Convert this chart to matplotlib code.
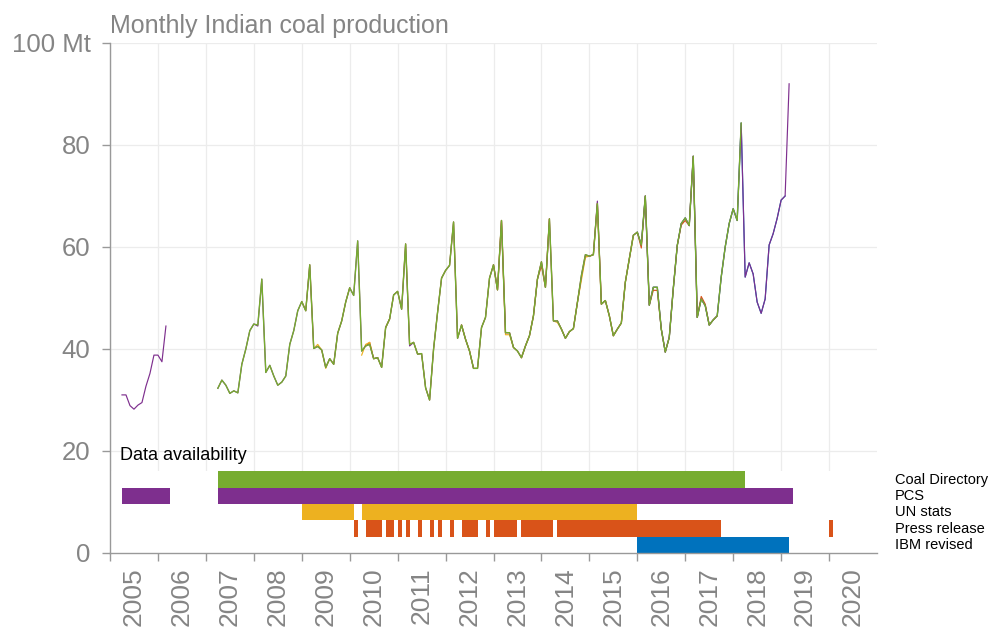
import numpy as np
import matplotlib
matplotlib.use("Agg")
import matplotlib.pyplot as plt
from matplotlib.transforms import blended_transform_factory

plt.rcParams['font.family'] = ['Liberation Sans', 'DejaVu Sans']

# ---------------- data (monthly production, Mt) ----------------
series_names = ["Coal Directory", "PCS", "UN stats", "Press release", "IBM revised"]
series_colors = ["#77AC30", "#7E2F8E", "#EDB120", "#D95319", "#0072BD"]

# Coal Directory: Apr 2007 - Mar 2018
coal_dir_start = "2007-04"
coal_dir = [32.3, 33.9, 32.9, 31.3, 31.8, 31.4, 37.0, 40.0, 43.6, 44.9, 44.7, 53.7,
            35.4, 36.8, 34.7, 32.9, 33.5, 34.7, 40.9, 43.6, 47.5, 49.3, 47.5, 56.5,
            40.1, 40.5, 39.8, 36.4, 38.1, 37.0, 43.1, 45.5, 49.2, 52.0, 50.5, 61.2,
            39.6, 40.6, 40.9, 38.1, 38.3, 36.4, 44.2, 45.9, 50.6, 51.3, 47.8, 60.6,
            40.9, 41.3, 39.0, 39.1, 32.4, 30.0, 40.0, 47.2, 53.9, 55.4, 56.4, 64.9,
            42.1, 44.7, 41.9, 39.6, 36.2, 36.2, 44.2, 46.2, 53.9, 56.5, 51.6, 65.2,
            43.2, 43.2, 40.3, 39.6, 38.3, 40.6, 42.6, 46.5, 53.7, 57.1, 52.1, 65.5,
            45.5, 45.5, 43.9, 42.1, 43.4, 44.0, 49.1, 54.4, 58.5, 58.2, 58.5, 68.5,
            48.8, 49.5, 46.5, 42.6, 43.9, 45.1, 53.1, 57.7, 62.3, 62.9, 60.4, 70.0,
            48.6, 52.1, 52.1, 43.9, 39.4, 42.3, 51.8, 60.3, 64.6, 65.7, 64.2, 77.8,
            46.2, 49.8, 48.5, 44.7, 45.7, 46.5, 54.1, 60.0, 64.6, 67.5, 65.2, 84.3]

# PCS: Apr 2005 - Mar 2006 and Apr 2007 - Mar 2019
pcs_a_start = "2005-04"
pcs_a = [31.0, 31.0, 28.9, 28.2, 29.0, 29.5, 32.7, 35.2, 38.8, 38.8, 37.5, 44.5]
pcs_b_start = "2007-04"
pcs_b = [32.3, 33.9, 32.9, 31.3, 31.8, 31.4, 37.0, 40.0, 43.6, 44.9, 44.5, 53.7,
         35.4, 36.8, 34.7, 32.9, 33.5, 34.7, 40.9, 43.6, 47.5, 49.3, 47.5, 56.5,
         40.1, 40.5, 39.8, 36.4, 38.1, 37.0, 43.1, 45.5, 49.2, 52.0, 50.5, 61.2,
         39.6, 40.6, 40.9, 38.1, 38.3, 36.4, 44.2, 45.9, 50.6, 51.3, 47.8, 60.6,
         40.6, 41.3, 39.0, 39.1, 32.4, 30.0, 40.0, 47.2, 53.9, 55.4, 56.4, 64.9,
         42.1, 44.7, 41.9, 39.6, 36.2, 36.2, 44.2, 46.2, 53.9, 56.5, 51.6, 65.2,
         43.2, 43.2, 40.3, 39.6, 38.3, 40.6, 42.6, 46.5, 53.7, 57.1, 52.1, 65.5,
         45.5, 45.5, 43.9, 42.1, 43.4, 44.0, 49.1, 54.4, 58.5, 58.2, 58.5, 69.0,
         48.8, 49.5, 46.5, 42.6, 43.9, 45.1, 53.1, 57.7, 62.3, 62.9, 60.4, 70.0,
         48.6, 52.1, 52.1, 43.9, 39.4, 42.3, 51.8, 60.3, 64.6, 65.7, 64.2, 77.8,
         46.2, 49.8, 48.5, 44.7, 45.7, 46.5, 54.1, 60.0, 64.6, 67.5, 65.2, 84.3,
         54.1, 56.9, 54.7, 49.2, 47.0, 49.8, 60.4, 62.6, 65.6, 69.2, 70.0, 92.0]

# UN stats: Jan 2009 - Jan 2010 and Apr 2010 - Dec 2015
un_a_start = "2009-01"
un_a = [49.3, 47.5, 56.5, 40.1, 40.9, 39.8, 36.2, 38.1, 37.0, 43.1, 45.5, 49.2, 52.0]
un_b_start = "2010-04"
un_b = [38.8, 40.9, 41.3, 38.1, 38.3, 36.4, 44.2, 45.9, 50.6, 51.3, 47.8, 60.6,
        40.9, 41.3, 39.0, 39.1, 32.4, 30.0, 40.0, 47.2, 53.9, 55.4, 56.4, 64.9,
        42.1, 44.7, 41.9, 39.6, 36.2, 36.2, 44.2, 46.2, 53.9, 56.5, 51.6, 65.2,
        42.8, 42.8, 40.3, 39.6, 38.3, 40.6, 42.6, 46.5, 53.7, 57.1, 52.1, 65.5,
        45.5, 45.2, 43.9, 42.1, 43.4, 44.0, 49.1, 53.5, 58.0, 58.2, 58.5, 68.5,
        48.8, 49.5, 46.5, 42.6, 43.9, 45.1, 53.1, 57.7, 62.0]

# Press release: scattered months
press_starts = ["2010-02", "2010-05", "2010-10", "2011-01", "2011-03", "2011-06",
                "2011-09", "2011-11", "2012-02", "2012-05", "2012-11", "2013-01",
                "2013-08", "2014-05", "2020-01"]
press_values = [[50.5],
                [40.6, 41.3, 38.1, 38.3],
                [44.2, 45.9],
                [51.3],
                [60.6],
                [39.0],
                [30.0],
                [47.2],
                [56.4],
                [44.7, 41.9, 39.6, 36.2],
                [46.2],
                [56.5, 51.6, 65.2, 43.2, 43.2, 40.3],
                [38.3, 40.6, 42.6, 46.5, 53.7, 56.3, 52.1, 65.5],
                [45.5, 43.9, 42.1, 43.4, 44.0, 49.1, 54.0, 58.2, 58.2, 58.5, 68.5,
                 48.8, 49.5, 46.5, 42.6, 43.9, 45.1, 53.1, 57.7, 62.3, 62.9, 59.8, 70.0,
                 48.6, 51.5, 51.5, 43.9, 39.4, 42.3, 51.8, 60.3, 64.3, 65.2, 64.2, 77.8,
                 46.2, 50.3, 48.8, 44.7, 45.7, 46.5],
                [64.4]]

# IBM revised: Jan 2016 - Feb 2019
ibm_start = "2016-01"
ibm = [62.9, 60.4, 70.0,
       48.6, 52.1, 52.1, 43.9, 39.4, 42.3, 51.8, 60.3, 64.6, 65.7, 64.2, 77.8,
       46.2, 49.8, 48.5, 44.7, 45.7, 46.5, 54.1, 60.0, 64.6, 67.5, 65.2, 84.3,
       54.1, 56.9, 54.7, 49.2, 47.0, 49.8, 60.4, 62.6, 65.6, 69.2, 70.0]

year_ticks = list(range(2005, 2021))
y_ticks = [0, 20, 40, 60, 80, 100]
y_labels = ["0", "20", "40", "60", "80", "100 Mt"]

# ---------------- helpers ----------------
def month_pos(s):
    y, m = s.split("-")
    return int(y) + (int(m) - 1) / 12.0

def runs_xy(runs):
    xs, ys = [], []
    for start, vals in runs:
        t0 = month_pos(start)
        xs.extend(list(t0 + np.arange(len(vals)) / 12.0))
        ys.extend(vals)
        xs.append(np.nan)
        ys.append(np.nan)
    return np.array(xs), np.array(ys)

series_runs = [
    [(coal_dir_start, coal_dir)],
    [(pcs_a_start, pcs_a), (pcs_b_start, pcs_b)],
    [(un_a_start, un_a), (un_b_start, un_b)],
    list(zip(press_starts, press_values)),
    [(ibm_start, ibm)],
]
line_widths = [1.0, 0.85, 0.85, 0.85, 0.85]

# ---------------- figure ----------------
fig = plt.figure(figsize=(9.89, 6.29), dpi=100)
ax = fig.add_axes([110 / 989, 76 / 629, 767 / 989, 510 / 629])

gray = "#858585"
ax.set_xlim(2005, 2021)
ax.set_ylim(0, 100)
ax.set_axisbelow(True)
ax.grid(True, color="#ececec", lw=0.9, zorder=0)

# white band hiding the grid behind the availability bars
ax.axhspan(0, 16, color="white", zorder=1, lw=0)

bar_h = 3.2
draw_order = [4, 3, 2, 1, 0]
for i in draw_order:
    runs = series_runs[i]
    x, y = runs_xy(runs)
    ax.plot(x, y, color=series_colors[i], lw=line_widths[i],
            zorder=3 + (4 - i) * 0.1, solid_joinstyle="round")
    row = (4 - i) * bar_h
    spans = [(month_pos(s), len(v) / 12.0) for s, v in runs]
    ax.broken_barh(spans, (row, bar_h), facecolors=series_colors[i],
                   edgecolor="none", zorder=2)

trans = blended_transform_factory(ax.transAxes, ax.transData)
for i, name in enumerate(series_names):
    row = (4 - i) * bar_h
    ax.text(1.0235, row + bar_h / 2, name, transform=trans, fontsize=10.5,
            va="center", ha="left", color="black", clip_on=False)

ax.text(2005.21, 18.3, "Data availability", fontsize=13, color="black",
        va="baseline", ha="left", zorder=4)

# axes styling
for s in ["top", "right"]:
    ax.spines[s].set_visible(False)
for s in ["left", "bottom"]:
    ax.spines[s].set_color("#999999")
    ax.spines[s].set_linewidth(1.0)

ax.set_yticks(y_ticks)
ax.set_yticklabels(y_labels)
ax.tick_params(axis="y", colors="#999999", labelcolor=gray, labelsize=18.5,
               length=6, width=1.0, pad=8)

ax.set_xticks(year_ticks)
ax.set_xticklabels([])
ax.set_xticks([y + 0.5 for y in year_ticks], minor=True)
ax.set_xticklabels([str(y) for y in year_ticks], minor=True, rotation=90)
ax.tick_params(axis="x", which="major", colors="#999999", length=5.5, width=1.0)
ax.tick_params(axis="x", which="minor", length=0, labelsize=19,
               labelcolor=gray, pad=10)
ax.grid(False, which="minor")

fig.text(110 / 989, 1 - 33 / 629, "Monthly Indian coal production",
         fontsize=18, color=gray, ha="left", va="baseline")

fig.savefig("out.png", dpi=100)
